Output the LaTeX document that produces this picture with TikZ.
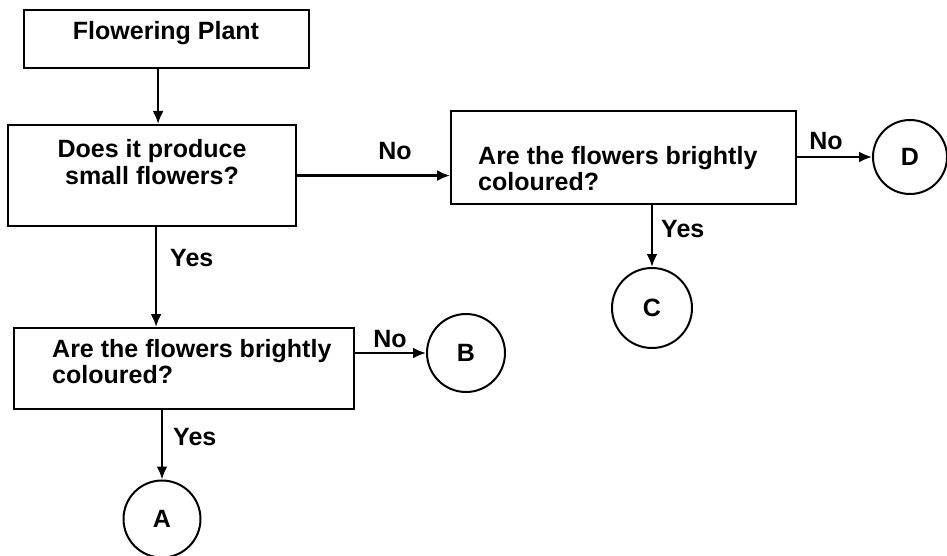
\documentclass[tikz,border=0pt]{standalone}
\usepackage{fontspec}
\setmainfont{Liberation Sans}
\usetikzlibrary{arrows.meta}
\begin{document}
\begin{tikzpicture}[x=1pt,y=-1pt,
  box/.style={draw, line width=2.2pt, inner sep=0pt, anchor=north west},
  circ/.style={draw, circle, line width=2pt, inner sep=0pt, font=\fontsize{25}{27}\selectfont\bfseries},
  txt/.style={inner sep=0pt, font=\fontsize{25}{27}\selectfont\bfseries},
  arr/.style={line width=2.3pt, -{Latex[length=13pt,width=11pt]}}]
\useasboundingbox (0,0) rectangle (947,556);
% boxes
\node[box, minimum width=285pt, minimum height=58pt] (fp) at (23,9) {};
\node[box, minimum width=288pt, minimum height=101pt] (q1) at (7,124) {};
\node[box, minimum width=345pt, minimum height=93pt] (q2) at (450,110) {};
\node[box, minimum width=340pt, minimum height=81pt] (q3) at (13,327) {};
% circles
\node[circ, minimum size=74pt] (D) at (910,157) {D};
\node[circ, minimum size=80pt] (C) at (652,308) {C};
\node[circ, minimum size=78pt] (B) at (466,353) {B};
\node[circ, minimum size=77pt] (A) at (162,519) {A};
% texts
\node[txt, anchor=base] (fpt) at (166,40) {Flowering Plant};
\node[txt, anchor=base] (q1a) at (152,158) {Does it produce};
\node[txt, anchor=base] (q1b) at (152,185) {small flowers?};
\node[txt, anchor=base west] (q2a) at (478,165) {Are the flowers brightly};
\node[txt, anchor=base west] (q2b) at (478,191) {coloured?};
\node[txt, anchor=base west] (q3a) at (52,357) {Are the flowers brightly};
\node[txt, anchor=base west] (q3b) at (52,383) {coloured?};
% labels
\node[txt, anchor=base] (no1) at (395,160) {No};
\node[txt, anchor=base] (no2) at (826,150) {No};
\node[txt, anchor=base] (no3) at (390,347) {No};
\node[txt, anchor=base west] (yes1) at (170,266) {Yes};
\node[txt, anchor=base west] (yes2) at (661,237) {Yes};
\node[txt, anchor=base west] (yes3) at (173,445) {Yes};
% connectors
\draw[arr] ([xshift=-8.5pt]fp.south) -- ([xshift=-8.5pt]fp.south |- q1.north);
\draw[arr] (q1.east) -- (q1.east -| q2.west);
\draw[arr] (q2.east |- D.west) -- (D.west);
\draw[arr] (C.north |- q2.south) -- (C.north);
\draw[arr] ([xshift=4pt]q1.south) -- ([xshift=4pt]q1.south |- q3.north);
\draw[arr] (q3.east |- B.west) -- (B.west);
\draw[arr] (A.north |- q3.south) -- (A.north);
\end{tikzpicture}
\end{document}
